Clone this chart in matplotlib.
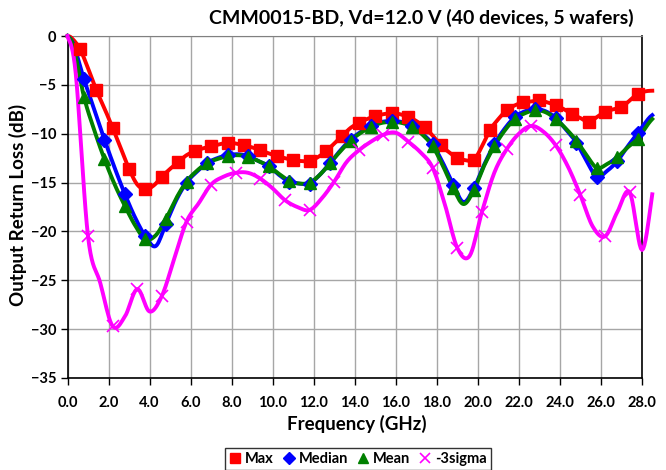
import numpy as np
import matplotlib
matplotlib.use("Agg")
from matplotlib import pyplot as plt
from matplotlib.lines import Line2D

plt.rcParams['font.family'] = ['Lato', 'DejaVu Sans']
plt.rcParams['font.weight'] = 'bold'

# frequency grids (GHz) of each trace, markers on every 2nd point from index 2
freq_max = np.r_[0, np.arange(0.2, 28.3, 0.4), 28.5]
freq_mid = np.r_[0, np.arange(0.3, 28.4, 0.5), 28.5]
freq_sig = np.r_[0, np.arange(0.4, 28.1, 0.6), 28.5]

max_db = [0, -0.2, -1.3, -3.3, -5.5, -7.4, -9.4, -11.5, -13.6, -15.2,
          -15.7, -15.3, -14.4, -13.6, -12.9, -12.2, -11.8, -11.5, -11.3, -11.1,
          -10.9, -11.0, -11.2, -11.4, -11.7, -12.0, -12.3, -12.5, -12.7, -12.8,
          -12.8, -12.4, -11.8, -11.0, -10.2, -9.4, -8.9, -8.5, -8.2, -8.0,
          -7.9, -8.0, -8.3, -8.7, -9.35, -10.2, -11.2, -11.9, -12.5, -12.7,
          -12.7, -11.3, -9.6, -8.5, -7.6, -7.1, -6.8, -6.7, -6.6, -6.8,
          -7.1, -7.5, -8.0, -8.4, -8.8, -8.3, -7.75, -7.5, -7.3, -6.6,
          -5.9, -5.65, -5.6]

median_db = [0, -0.9, -4.4, -7.5, -10.6, -13.5, -16.2, -18.6, -20.5, -21.5,
             -19.2, -16.8, -15.0, -13.9, -13.0, -12.5, -12.2, -12.1, -12.3, -12.8,
             -13.3, -14.2, -14.9, -15.1, -15.1, -14.2, -13.0, -11.7, -10.6, -9.8,
             -9.2, -8.8, -8.7, -8.8, -9.2, -10.0, -11.1, -13.0, -15.2, -17.0,
             -15.6, -13.2, -11.1, -9.5, -8.3, -7.7, -7.5, -7.7, -8.4, -9.6,
             -10.9, -12.8, -14.4, -13.8, -12.8, -11.3, -9.9, -8.5, -8.1]

mean_db = [0, -1.1, -6.2, -9.6, -12.6, -15.2, -17.4, -19.4, -20.8, -20.4,
           -18.7, -16.6, -14.9, -13.8, -13.0, -12.6, -12.3, -12.2, -12.35, -12.8,
           -13.3, -14.1, -14.8, -15.1, -15.0, -14.2, -13.0, -11.8, -10.7, -9.9,
           -9.3, -8.9, -8.8, -8.9, -9.3, -10.1, -11.3, -13.3, -15.6, -17.2,
           -15.8, -13.3, -11.3, -9.7, -8.5, -7.9, -7.6, -7.8, -8.5, -9.5,
           -10.7, -12.2, -13.5, -13.1, -12.4, -11.4, -10.5, -9.0, -8.5]

sigma3_db = [0, -3.8, -20.5, -25.3, -29.7, -28.7, -25.9, -28.2, -26.6, -22.8,
             -19.0, -17.1, -15.2, -14.4, -14.0, -14.0, -14.6, -15.6, -16.8, -17.5,
             -17.8, -16.6, -14.9, -12.9, -11.7, -10.8, -10.1, -9.9, -10.8, -11.9,
             -13.5, -17.3, -21.7, -22.5, -18.0, -14.0, -11.6, -10.0, -9.2, -9.8,
             -11.2, -13.4, -16.3, -19.5, -20.5, -18.0, -16.0, -21.9, -16.2]


def smooth(x, y, n=10):
    # Catmull-Rom curve through the points, like Excel's smoothed line
    P = np.column_stack([x, y]).astype(float)
    P = np.vstack([P[0], P, P[-1]])
    p0, p1, p2, p3 = P[:-3], P[1:-2], P[2:-1], P[3:]
    t = np.linspace(0, 1, n, endpoint=False)[:, None, None]
    c = 0.5 * (2 * p1 + (p2 - p0) * t + (2 * p0 - 5 * p1 + 4 * p2 - p3) * t ** 2
               + (3 * p1 - p0 - 3 * p2 + p3) * t ** 3)
    c = c.transpose(1, 0, 2).reshape(-1, 2)
    c = np.vstack([c, P[-2]])
    return c[:, 0], c[:, 1]


series = [
    ("Max", freq_max, max_db, '#FF0000', 's', 8, 1),
    ("Median", freq_mid, median_db, '#0000FF', 'D', 7, 1),
    ("Mean", freq_mid, mean_db, '#008000', '^', 9, 1),
    ("-3sigma", freq_sig, sigma3_db, '#FF00FF', 'x', 9, 1.2),
]

fig = plt.figure(figsize=(6.66, 4.70), dpi=100)
ax = fig.add_axes([67.5 / 666, 1 - 378 / 470, (642 - 67.5) / 666, (378 - 36) / 470])

handles = []
for label, f, v, col, mk, ms, mew in series:
    sx, sy = smooth(f, v)
    ax.plot(sx, sy, color=col, lw=2.8, clip_on=False, zorder=3)
    # markers on every second point, none on the end point past the axis
    ax.plot(f[2:-1:2], np.asarray(v)[2:-1:2], ls='none', marker=mk, ms=ms, color=col,
            mec=col, mew=mew, clip_on=False, zorder=4)
    handles.append(Line2D([], [], ls='none', marker=mk, ms=ms * 0.85, color=col, mew=mew, label=label))

ax.set_xlim(0, 28)
ax.set_ylim(-35, 0)
ax.set_xticks(np.arange(0, 28.1, 2))
ax.set_yticks(np.arange(-35, 0.1, 5))
ax.set_xticklabels([f"{t:.1f}" for t in np.arange(0, 28.1, 2)])
ax.tick_params(axis='both', direction='out', length=5, width=1, labelsize=10.5, pad=3)
ax.tick_params(axis='x', pad=8)
ax.grid(True, color='#A6A6A6', lw=1)
ax.set_axisbelow(True)
for s in ['left', 'bottom', 'right']:
    ax.spines[s].set_color('black')
    ax.spines[s].set_linewidth(1.2)
ax.spines['top'].set_color('#808080')

fig.text(421 / 666, 1 - 18 / 470, "CMM0015-BD, Vd=12.0 V (40 devices, 5 wafers)",
         ha='center', va='center', fontsize=14, fontweight='bold')
fig.text(18 / 666, 1 - 205 / 470, "Output Return Loss (dB)", rotation=90,
         ha='center', va='center', fontsize=13.5, fontweight='bold')
fig.text(357 / 666, 1 - 424 / 470, "Frequency (GHz)",
         ha='center', va='center', fontsize=13.5, fontweight='bold')

leg = fig.legend(handles=handles, loc='center', bbox_to_anchor=(358 / 666, 1 - 459 / 470),
                 ncol=4, fontsize=10.5, frameon=True, fancybox=False, edgecolor='black',
                 handlelength=0.8, handletextpad=0.3, columnspacing=0.6, borderpad=0.3)
leg.get_frame().set_linewidth(1)

fig.savefig("out.png", dpi=100)
